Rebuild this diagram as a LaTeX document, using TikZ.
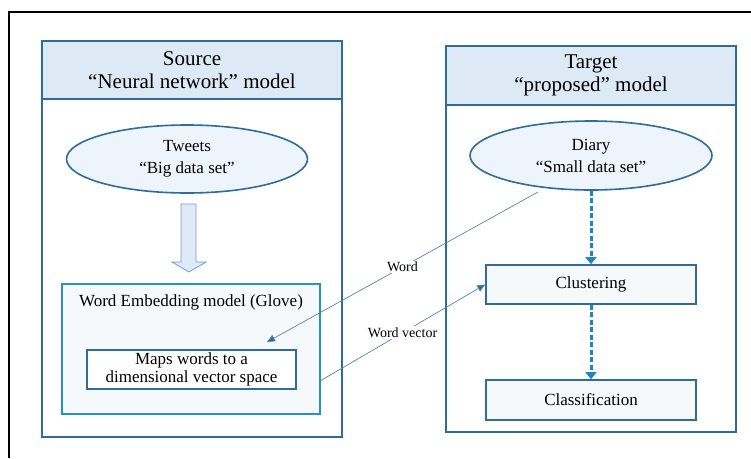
\documentclass[tikz,border=0pt]{standalone}
\usepackage{fontspec}
\setmainfont{Liberation Serif}
\usetikzlibrary{arrows.meta,shapes.geometric}
\definecolor{panelblue}{HTML}{2E6C99}
\definecolor{headfill}{HTML}{DDEAF6}
\definecolor{ellfill}{HTML}{EEF4FB}
\definecolor{embblue}{HTML}{2A90C0}
\definecolor{boxfill}{HTML}{F6F9FC}
\definecolor{dashblue}{HTML}{1A87C4}
\definecolor{thinline}{HTML}{4A8AB0}
\definecolor{arrowfill}{HTML}{DEEAF6}
\definecolor{arrowedge}{HTML}{6FA0CC}
\tikzset{
  panel/.style={draw=panelblue,line width=2pt,rectangle,inner sep=0pt},
  header/.style={draw=panelblue,line width=2pt,fill=headfill,rectangle,inner sep=0pt,align=center,
    font=\fontsize{21}{23}\selectfont},
  dataell/.style={draw=panelblue,line width=1.6pt,fill=ellfill,ellipse,inner sep=0pt,align=center,
    font=\fontsize{17}{22}\selectfont},
  stepbox/.style={draw=panelblue,line width=1.6pt,fill=boxfill,rectangle,inner sep=0pt,align=center,
    font=\fontsize{17}{18}\selectfont},
  embbox/.style={draw=embblue,line width=1.5pt,fill=boxfill,rectangle,inner sep=0pt},
  dasharrow/.style={draw=dashblue,line width=3pt,dash pattern=on 5pt off 2.5pt,
    -{Triangle[length=7pt,width=11pt]}},
  thinarrow/.style={draw=thinline,line width=0.7pt,-{Triangle[length=8pt,width=7pt,fill=panelblue]}},
  lbl/.style={fill=white,inner sep=1.5pt,font=\fontsize{14}{16}\selectfont}
}
\begin{document}
\begin{tikzpicture}[x=1pt,y=-1pt]
\useasboundingbox (0,0) rectangle (751,458);
% outer frame
\draw[line width=1.3pt,black] (9,458) -- (9,12) -- (751,12);
% left panel
\node[panel,minimum width=300pt,minimum height=396pt] (lp) at (192,239) {};
\node[header,minimum width=300pt,minimum height=58pt] (lh) at (192,70) {Source\\``Neural network'' model};
\node[dataell,minimum width=241pt,minimum height=68pt] (tw) at (187,159) {Tweets\\``Big data set''};
% block arrow
\draw[draw=arrowedge,fill=arrowfill,line width=0.8pt] (181,204) -- (196,204) -- (196,262) -- (206,262) -- (189,272) -- (172,262) -- (181,262) -- cycle;
\node[embbox,minimum width=258pt,minimum height=130pt] (emb) at (191,349) {};
\node[font=\fontsize{17}{18}\selectfont,inner sep=0pt] (embt) at (191,302) {Word Embedding model (Glove)};
\node[stepbox,fill=white,minimum width=209pt,minimum height=39pt] (maps) at (191.5,369.5) {Maps words to a\\dimensional vector space};
% right panel
\node[panel,minimum width=290pt,minimum height=386pt] (rp) at (591,239) {};
\node[header,minimum width=290pt,minimum height=59pt] (rh) at (591,75.5) {Target\\``proposed'' model};
\node[dataell,minimum width=242pt,minimum height=69pt] (di) at (591,155.5) {Diary\\``Small data set''};
\node[stepbox,minimum width=210pt,minimum height=39pt] (clu) at (591,284.5) {Clustering};
\node[stepbox,minimum width=210pt,minimum height=40pt] (cla) at (591,400) {Classification};
% dashed arrows
\draw[dasharrow] (di.south) -- (clu.north);
\draw[dasharrow] (clu.south) -- (cla.north);
% thin connectors
\coordinate (wstart) at (538,192);
\coordinate (wend) at (267,342);
\coordinate (vstart) at (320,381);
\draw[thinarrow] (wstart) -- node[lbl] (wl) {Word} (wend);
\draw[thinarrow] (vstart) -- node[lbl] (vl) {Word vector} (clu.west);
\end{tikzpicture}
\end{document}
